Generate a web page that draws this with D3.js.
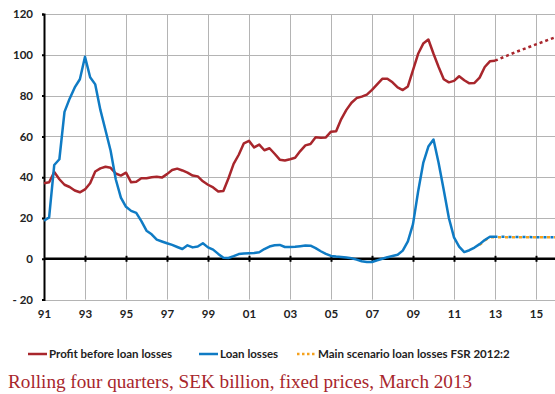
<!DOCTYPE html>
<html>
<head>
<meta charset="utf-8">
<script src="https://cdn.jsdelivr.net/npm/d3@7"></script>
<style>
  body { margin: 0; background: #fff; }
  svg { display: block; }
</style>
</head>
<body>
<svg id="chart" width="555" height="394"></svg>
<script>
// Quarterly series, rolling four quarters, SEK billion, starting 1991 Q1
const startYear = 1991;
const profit = [
  37.0, 37.5, 42.5, 39.0, 36.3, 35.2, 33.5, 32.6, 34.0, 37.0, 42.8, 44.3,
  45.1, 44.6, 41.8, 40.8, 42.2, 37.5, 37.8, 39.5, 39.5, 40.0, 40.2, 39.8,
  41.5, 43.5, 44.2, 43.3, 42.2, 40.8, 40.4, 38.0, 36.3, 35.0, 33.0, 33.2,
  39.5, 46.5, 51.0, 56.6, 57.8, 54.6, 56.0, 53.2, 54.2, 51.5, 48.6, 48.2,
  48.8, 49.5, 52.8, 55.6, 56.3, 59.6, 59.3, 59.5, 62.3, 62.5, 68.5, 73.0,
  76.5, 78.8, 79.5, 80.5, 82.8, 85.5, 88.2, 88.3, 86.5, 84.0, 82.7, 84.5,
  92.5, 100.5, 105.5, 107.5, 100.5, 94.0, 88.0, 86.5, 87.2, 89.5, 87.5, 86.0,
  86.2, 88.8, 94.0, 96.8, 97.1
];
const loanLosses = [
  18.7, 20.3, 46.0, 48.8, 72.0, 78.5, 84.0, 88.0, 99.0, 89.0, 85.5, 73.0,
  63.0, 53.0, 39.0, 30.0, 25.5, 23.5, 22.5, 18.5, 13.8, 12.0, 9.4, 8.5,
  7.6, 6.8, 5.8, 4.8, 6.6, 5.6, 6.0, 7.6, 5.6, 4.5, 2.4, 0.5,
  0.4, 1.3, 2.3, 2.6, 2.7, 2.8, 3.2, 4.8, 6.0, 6.6, 6.8, 5.8,
  5.8, 5.9, 6.2, 6.5, 6.4, 5.2, 3.7, 2.4, 1.4, 1.1, 0.9, 0.6,
  0.3, -0.4, -1.2, -1.6, -1.6, -0.8, 0.0, 0.8, 1.4, 2.0, 4.0, 8.5,
  17.0, 33.0, 47.0, 55.0, 58.5, 47.0, 33.7, 20.0, 10.5, 6.0, 3.3, 4.2,
  5.5, 7.2, 9.2, 10.8, 10.8
];

// Forecast paths (dotted)
const profitForecastYears = [2013, 2014, 2015, 2016];
const profitForecast = [97.1, 101.3, 105.1, 108.8];
const lossForecastYears = [2013, 2014, 2015, 2016];
const lossForecast = [10.8, 10.7, 10.6, 10.6];
const fsrYears = [2012.25, 2012.5, 2012.75, 2013, 2014, 2015, 2016];
const fsrScenario = [6.8, 9.0, 10.6, 10.6, 10.6, 10.6, 10.6];

// Axis ticks
const yTicks = [-20, 0, 20, 40, 60, 80, 100, 120];
const xTickYears = [1991, 1993, 1995, 1997, 1999, 2001, 2003, 2005, 2007, 2009, 2011, 2013, 2015];
const xTickLabels = ["91", "93", "95", "97", "99", "01", "03", "05", "07", "09", "11", "13", "15"];

const legendItems = [
  { label: "Profit before loan losses", color: "#a8262c", dash: null },
  { label: "Loan losses", color: "#0f7bc4", dash: null },
  { label: "Main scenario loan losses FSR 2012:2", color: "#f5a11c", dash: "2.5,2.5" }
];
const caption = "Rolling four quarters, SEK billion, fixed prices, March 2013";

const RED = "#a8262c", BLUE = "#0f7bc4", ORANGE = "#f5a11c";

const svg = d3.select("#chart");
const plotLeft = 44, plotTop = 14, plotBottom = 299.6;
const x = d3.scaleLinear().domain([1991, 2016]).range([plotLeft, plotLeft + 25 * 20.5]);
const y = d3.scaleLinear().domain([-20, 120]).range([plotBottom, plotTop]);

const quarterT = i => startYear + i / 4;

// Grid
const grid = svg.append("g").attr("stroke", "#b4b4b4").attr("stroke-width", 1);
grid.selectAll("line.h").data(yTicks.filter(d => d !== 0)).join("line")
  .attr("x1", plotLeft).attr("x2", 555)
  .attr("y1", d => Math.round(y(d)) + 0.5).attr("y2", d => Math.round(y(d)) + 0.5);
grid.selectAll("line.v").data(xTickYears.slice(1)).join("line")
  .attr("x1", d => Math.round(x(d)) + 0.5).attr("x2", d => Math.round(x(d)) + 0.5)
  .attr("y1", plotTop).attr("y2", plotBottom);

// Left axis with labels
const yAxis = d3.axisLeft(y).tickValues(yTicks).tickSize(2).tickPadding(9)
  .tickFormat(d => d < 0 ? "- " + Math.abs(d) : d);
const ya = svg.append("g").attr("transform", `translate(${plotLeft},0)`).call(yAxis);
ya.select(".domain").attr("stroke", "#000").attr("stroke-width", 2);
ya.selectAll(".tick line").attr("stroke", "#000").attr("stroke-width", 2);
ya.selectAll("text").attr("font-family", "Lato, 'DejaVu Sans', sans-serif")
  .attr("font-size", 11.5).attr("font-weight", "bold").attr("fill", "#222");

// Zero line with small ticks at labelled years
const y0 = y(0);
const za = svg.append("g").attr("transform", `translate(0,${y0})`)
  .call(d3.axisBottom(x).tickValues(xTickYears.slice(1)).tickSize(3).tickSizeOuter(0).tickFormat(""));
za.select(".domain").attr("stroke", "#000").attr("stroke-width", 2.5)
  .attr("d", `M${plotLeft},0H555`);
za.selectAll(".tick line").attr("stroke", "#000").attr("stroke-width", 2).attr("y1", -3).attr("y2", 3);

// Year labels below the plot
const xa = svg.append("g").attr("transform", `translate(0,${plotBottom})`)
  .call(d3.axisBottom(x).tickValues(xTickYears).tickSize(0).tickPadding(10)
    .tickFormat((d, i) => xTickLabels[i]));
xa.select(".domain").remove();
xa.selectAll("text").attr("font-family", "Lato, 'DejaVu Sans', sans-serif")
  .attr("font-size", 11.5).attr("font-weight", "bold").attr("fill", "#222");

// Lines
const line = d3.line().x(d => x(d[0])).y(d => y(d[1]));
const profitPts = profit.map((v, i) => [quarterT(i), v]);
const lossPts = loanLosses.map((v, i) => [quarterT(i), v]);
const fsrPts = fsrYears.map((t, i) => [t, fsrScenario[i]]);

const plot = svg.append("g").attr("fill", "none").attr("stroke-linejoin", "round");

// FSR scenario dots, with the loan-loss forecast dots placed in its gaps
const fsrPath = plot.append("path").attr("d", line(fsrPts))
  .attr("stroke", ORANGE).attr("stroke-width", 2.5).attr("stroke-dasharray", "3,4");
const head = plot.append("path").attr("d", line(fsrPts.filter(p => p[0] <= 2013)));
const headLen = head.node().getTotalLength();
head.remove();
plot.append("path").attr("d", line(lossForecastYears.map((t, i) => [t, lossForecast[i]])))
  .attr("stroke", BLUE).attr("stroke-width", 2.5).attr("stroke-dasharray", "3,4")
  .attr("stroke-dashoffset", headLen - 3.5);

plot.append("path").attr("d", line(profitPts)).attr("stroke", RED).attr("stroke-width", 2.5);
plot.append("path").attr("d", line(lossPts)).attr("stroke", BLUE).attr("stroke-width", 2.5);
plot.append("path").attr("d", line(profitForecastYears.map((t, i) => [t, profitForecast[i]])))
  .attr("stroke", RED).attr("stroke-width", 2.5).attr("stroke-dasharray", "3,3");

// Legend
const legendPos = [28, 199, 297];
const lg = svg.append("g").attr("transform", "translate(0,354)");
legendItems.forEach((it, i) => {
  const gx = legendPos[i];
  lg.append("line").attr("x1", gx).attr("x2", gx + 19).attr("y1", 0).attr("y2", 0)
    .attr("stroke", it.color).attr("stroke-width", 2.5)
    .attr("stroke-dasharray", it.dash);
  lg.append("text").attr("x", gx + 21).attr("y", 4)
    .attr("font-family", "Lato, 'DejaVu Sans', sans-serif").attr("font-size", 11.5)
    .attr("font-weight", "bold").attr("fill", "#222").text(it.label);
});

// Caption
svg.append("text").attr("x", 8).attr("y", 388)
  .attr("font-family", "'Liberation Serif', 'Times New Roman', serif")
  .attr("font-size", 19.2).attr("fill", "#a8262c").text(caption);
</script>
</body>
</html>
